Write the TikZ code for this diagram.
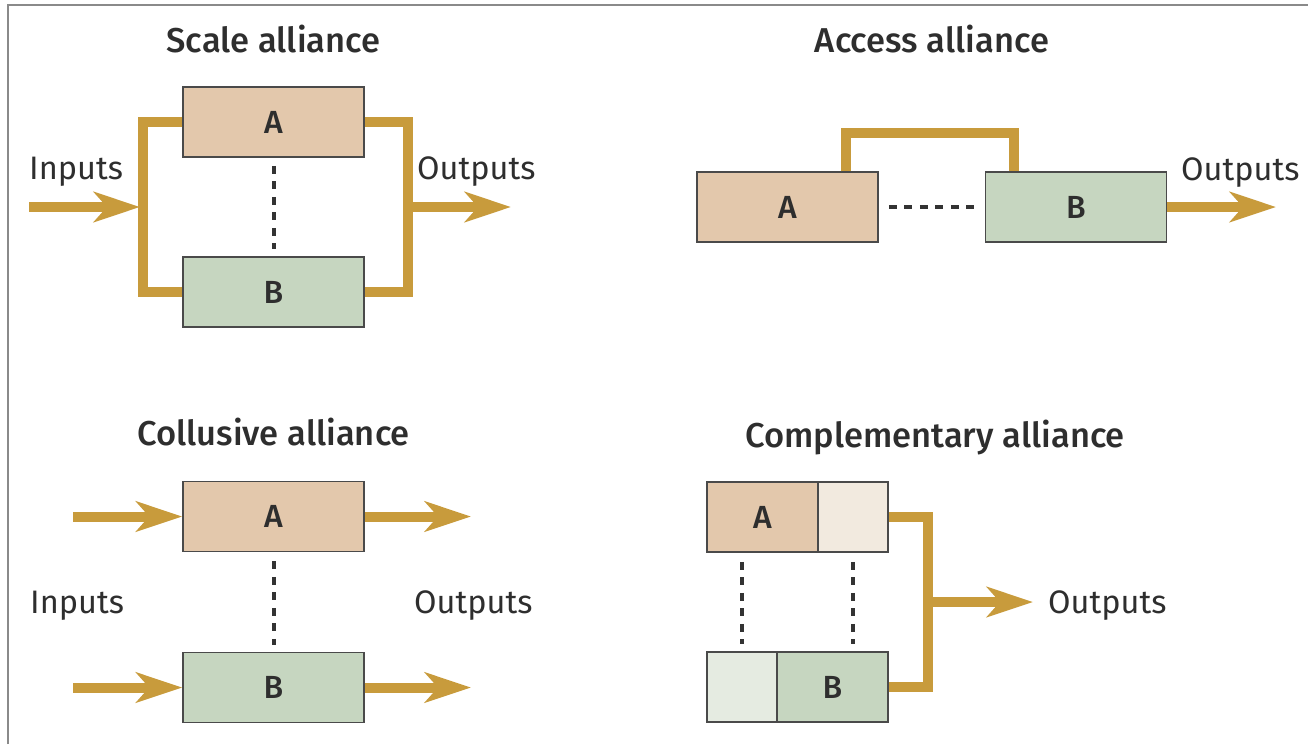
\documentclass[tikz,border=0pt]{standalone}
\usepackage{fontspec}
\setmainfont{Fira Sans}
\newfontfamily\ttlfont{Fira Sans Medium}
\usetikzlibrary{arrows.meta,calc}
\definecolor{gold}{HTML}{C89B3C}
\definecolor{tanA}{HTML}{E3C8AC}
\definecolor{greenB}{HTML}{C6D6C0}
\definecolor{tanL}{HTML}{F2EADF}
\definecolor{greenL}{HTML}{E5EBE1}
\definecolor{boxline}{HTML}{4A4A4A}
\definecolor{dotcol}{HTML}{333333}
\definecolor{textcol}{HTML}{2E2E2E}
\definecolor{framecol}{HTML}{8A8A8A}
\begin{document}
\begin{tikzpicture}[x=1pt,y=-1pt,
  box/.style={draw=boxline, line width=1.5pt, minimum height=70pt, inner sep=0pt, text=textcol,
    font=\ttlfont\fontsize{32}{34}\selectfont},
  wbox/.style={box, minimum width=181pt},
  flow/.style={draw=gold, line width=10pt, line join=miter},
  flowarrow/.style={draw=gold, line width=10pt, -{Stealth[length=46pt,width=30pt,inset=13pt]}},
  dots/.style={draw=dotcol, line width=4pt, dash pattern=on 8pt off 7.5pt},
  lbl/.style={anchor=base west, font=\fontsize{32.5}{38}\selectfont, text=textcol, inner sep=0pt},
  ttl/.style={anchor=base, font=\ttlfont\fontsize{34.5}{40}\selectfont, text=textcol, inner sep=0pt}]
\useasboundingbox (0,0) rectangle (1308,744);
\draw[framecol, line width=2pt] (8,744) -- (8,5) -- (1308,5);

% ---------------- Scale alliance
\node[ttl] (t1) at (273.5,52) {Scale alliance};
\node[wbox, fill=tanA] (sA) at (273.5,122) {A};
\node[wbox, fill=greenB] (sB) at (273.5,292) {B};
\draw[dots] ($(sA.south)+(0,8)$) -- ($(sB.north)+(0,-7)$);
\coordinate (sL) at (143,207);
\coordinate (sR) at (408,207);
\coordinate (sIn) at (29,207);
\coordinate (sOut) at (511,207);
\draw[flow] (sA.west) -| (sL) |- (sB.west);
\draw[flow] (sA.east) -| (sR) |- (sB.east);
\draw[flowarrow] (sIn) -- ($(sL)+(-3,0)$);
\draw[flowarrow] ($(sR)+(-5,0)$) -- (sOut);
\node[lbl] (sInL) at (29,179) {Inputs};
\node[lbl] (sOutL) at (417,179) {Outputs};

% ---------------- Access alliance
\node[ttl] (t2) at (932,52) {Access alliance};
\node[wbox, fill=tanA] (aA) at (787.5,207) {A};
\node[wbox, fill=greenB] (aB) at (1076,207) {B};
\draw[dots] ($(aA.east)+(10,0)$) -- ($(aB.west)+(-8,0)$);
\coordinate (aT1) at (845.5,133);
\coordinate (aT2) at (1014,133);
\draw[flow] ($(aA.north)+(58,0)$) -- (aT1) -- (aT2) -- ($(aB.north)+(-62,0)$);
\coordinate (aOut) at (1276,207);
\draw[flowarrow] (aB.east) -- (aOut);
\node[lbl] (aOutL) at (1181,180) {Outputs};

% ---------------- Collusive alliance
\node[ttl] (t3) at (273.5,445) {Collusive alliance};
\node[wbox, fill=tanA] (cA) at (273.5,516.5) {A};
\node[wbox, fill=greenB] (cB) at (273.5,687.5) {B};
\draw[dots] ($(cA.south)+(0,9)$) -- ($(cB.north)+(0,-7)$);
\coordinate (cInA) at (73,516.5);
\coordinate (cInB) at (73,687.5);
\coordinate (cOutA) at (471,516.5);
\coordinate (cOutB) at (471,687.5);
\draw[flowarrow] (cInA) -- (cA.west);
\draw[flowarrow] (cInB) -- (cB.west);
\draw[flowarrow] (cA.east) -- (cOutA);
\draw[flowarrow] (cB.east) -- (cOutB);
\node[lbl] (cInL) at (30,613) {Inputs};
\node[lbl] (cOutL) at (414,613) {Outputs};

% ---------------- Complementary alliance
\node[ttl] (t4) at (935,447) {Complementary alliance};
\node[box, fill=tanA, minimum width=111pt] (mA) at (762.5,517) {A};
\node[box, fill=tanL, minimum width=70pt] (mAx) at (853,517) {};
\node[box, fill=greenL, minimum width=70pt] (mBx) at (742,687) {};
\node[box, fill=greenB, minimum width=111pt] (mB) at (832.5,687) {B};
\draw[dots] ($(mBx.north |- mA.south)+(0,9)$) -- ($(mBx.north)+(0,-7)$);
\draw[dots] ($(mAx.south)+(0,9)$) -- ($(mAx.south |- mB.north)+(0,-7)$);
\coordinate (mJ) at (928,602);
\coordinate (mOut) at (1033,602);
\draw[flow] (mAx.east) -| (mJ) |- (mB.east);
\draw[flowarrow] ($(mJ)+(-5,0)$) -- (mOut);
\node[lbl] (mOutL) at (1048,613) {Outputs};
\end{tikzpicture}
\end{document}
